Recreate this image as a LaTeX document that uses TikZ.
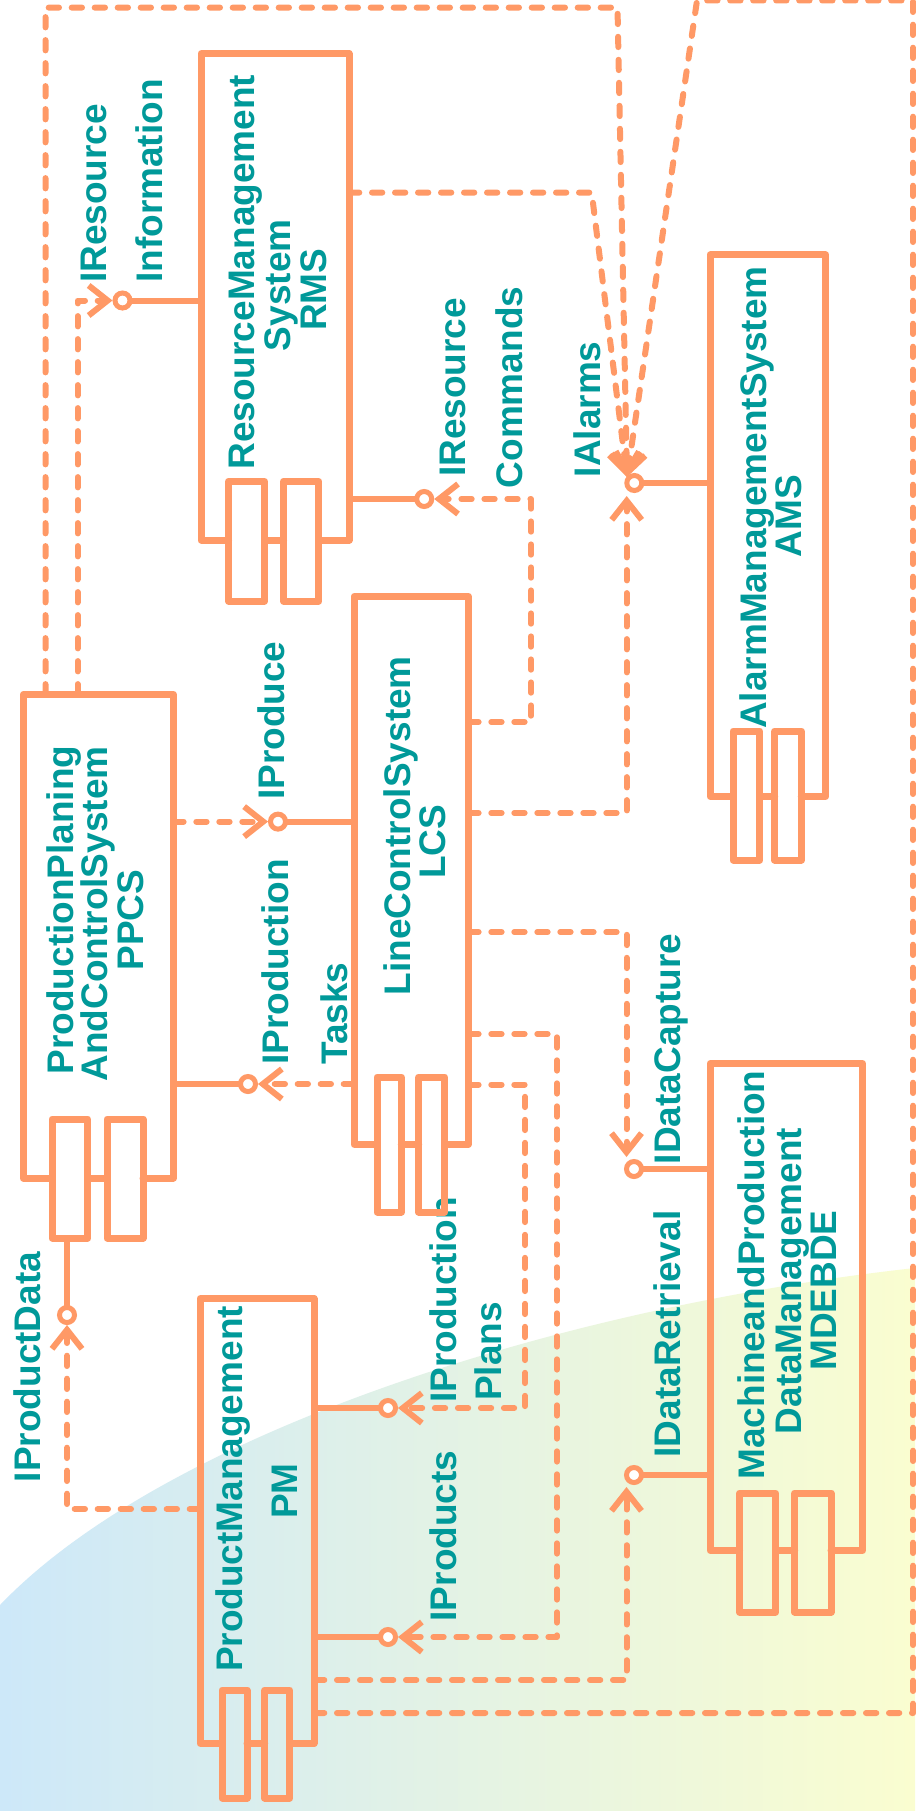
\documentclass[tikz,border=0pt]{standalone}
\usepackage{fontspec}
\setmainfont{Liberation Sans}
\usetikzlibrary{arrows.meta,calc}
\definecolor{lineC}{HTML}{FF9966}
\definecolor{txtC}{HTML}{009999}
\definecolor{blueC}{HTML}{CDE8F9}
\definecolor{yellowC}{HTML}{FAFDD0}
\pgfdeclarelayer{bg}
\pgfdeclarelayer{lines}
\pgfsetlayers{bg,lines,main}
\newcommand\drawcomp[1]{%
  \draw[box] (#1a.west |- #1.south) -- (#1.south west) -- (#1.north west) -- (#1.north east) -- (#1.south east) -- (#1b.east |- #1.south);
  \draw[box] (#1a.east |- #1.south) -- (#1b.west |- #1.south);
  \draw[box] (#1a.south west) rectangle (#1a.north east);
  \draw[box] (#1b.south west) rectangle (#1b.north east);}
\begin{document}
\begin{tikzpicture}[x=1pt,y=-1pt,
  box/.style={draw=lineC,line width=7pt,line join=round,line cap=round},
  frame/.style={rectangle,draw=none,inner sep=0pt,outer sep=0pt},
  conn/.style={draw=lineC,line width=6pt,line cap=round,line join=round},
  dep/.style={conn,dash pattern=on 10.3pt off 12.7pt},
  sock/.style={-{Straight Barb[length=19pt,width=30pt]}},
  ball/.style={circle,draw=lineC,fill=white,line width=5pt,minimum size=15pt,inner sep=0pt,outer sep=0pt},
  lbl/.style={text=txtC,font=\fontsize{37pt}{36pt}\selectfont\bfseries,rotate=90,inner sep=0pt,text height=26.6pt,text depth=0pt}
]
\useasboundingbox (0,0) rectangle (915,1811);
\begin{pgfonlayer}{bg}
\fill[white] (0,0) rectangle (915,1811);
\shade[left color=blueC,right color=yellowC] (0,1605) .. controls (165,1433) and (560,1307) .. (915,1268) -- (915,1811) -- (0,1811) -- cycle;
% labels
\node[lbl,anchor=west] (lIRI1) at (93.4,283) {IResource};
\node[lbl,anchor=west] (lIRI2) at (149.6,283) {Information};
\node[lbl] (lRMS1) at (241.6,272.2) {ResourceManagement};
\node[lbl] (lRMS2) at (277,285.3) {System};
\node[lbl] (lRMS3) at (312.8,289.8) {RMS};
\node[lbl] (lIRC1) at (452,387.5) {IResource};
\node[lbl] (lIRC2) at (509.4,387.5) {Commands};
\node[lbl] (lIA) at (587.3,409.3) {IAlarms};
\node[lbl] (lAMS1) at (752.7,497.5) {AlarmManagementSystem};
\node[lbl] (lAMS2) at (787.7,516.4) {AMS};
\node[lbl] (lIP) at (271.4,720.7) {IProduce};
\node[lbl] (lPPCS1) at (60.5,910) {ProductionPlaning};
\node[lbl] (lPPCS2) at (94,914) {AndControlSystem};
\node[lbl] (lPPCS3) at (130.5,920) {PPCS};
\node[lbl] (lLCS1) at (396.7,825.8) {LineControlSystem};
\node[lbl] (lLCS2) at (431.9,841.6) {LCS};
\node[lbl,anchor=west] (lIPT1) at (275.4,1065) {IProduction};
\node[lbl,anchor=west] (lIPT2) at (334.4,1065) {Tasks};
\node[lbl] (lIPD) at (27.4,1367) {IProductData};
\node[lbl] (lPM1) at (229.4,1489) {ProductManagement};
\node[lbl] (lPM2) at (284.2,1491) {PM};
\node[lbl,anchor=west] (lIPP1) at (443.5,1403) {IProduction};
\node[lbl,anchor=west] (lIPP2) at (488.4,1401) {Plans};
\node[lbl] (lIPs) at (443.5,1536) {IProducts};
\node[lbl] (lIDC) at (667,1049) {IDataCapture};
\node[lbl] (lIDR) at (667,1334) {IDataRetrieval};
\node[lbl] (lMD1) at (751.6,1275) {MachineandProduction};
\node[lbl] (lMD2) at (787.7,1281) {DataManagement};
\node[lbl] (lMD3) at (822.8,1290.5) {MDEBDE};
\end{pgfonlayer}
% component frames
\node[frame,minimum width=148pt,minimum height=486.3pt] (RMS) at (275,296.85) {};
\node[frame,minimum width=36pt,minimum height=119.6pt] (RMSa) at (246.5,541.2) {};
\node[frame,minimum width=35.3pt,minimum height=119.6pt] (RMSb) at (301.15,541.2) {};
\node[frame,minimum width=114.3pt,minimum height=547.9pt] (LCS) at (411.15,870.35) {};
\node[frame,minimum width=24.3pt,minimum height=135pt] (LCSa) at (389.15,1144.5) {};
\node[frame,minimum width=26pt,minimum height=135pt] (LCSb) at (431.7,1144.5) {};
\node[frame,minimum width=150pt,minimum height=483.6pt] (PPCS) at (98.3,936.2) {};
\node[frame,minimum width=35.7pt,minimum height=119pt] (PPCSa) at (69.85,1178.5) {};
\node[frame,minimum width=36pt,minimum height=119pt] (PPCSb) at (125,1178.5) {};
\node[frame,minimum width=115.7pt,minimum height=541.5pt] (AMS) at (767.85,525.75) {};
\node[frame,minimum width=26.7pt,minimum height=129pt] (AMSa) at (746.35,795.5) {};
\node[frame,minimum width=26.6pt,minimum height=129pt] (AMSb) at (788,795.5) {};
\node[frame,minimum width=152.5pt,minimum height=487pt] (MDEBDE) at (786.25,1307) {};
\node[frame,minimum width=36.1pt,minimum height=119pt] (MDEBDEa) at (757.55,1552.5) {};
\node[frame,minimum width=36.3pt,minimum height=119pt] (MDEBDEb) at (812.85,1552.5) {};
\node[frame,minimum width=114pt,minimum height=444.7pt] (PM) at (257,1520.95) {};
\node[frame,minimum width=25pt,minimum height=108pt] (PMa) at (234.5,1744) {};
\node[frame,minimum width=25pt,minimum height=108pt] (PMb) at (277.2,1744) {};
\drawcomp{RMS}
\drawcomp{LCS}
\drawcomp{PPCS}
\drawcomp{AMS}
\drawcomp{MDEBDE}
\drawcomp{PM}
% interface balls
\node[ball] (cIRI) at (122.5,300.5) {};
\node[ball] (cIRC) at (424.2,499) {};
\node[ball] (cIA) at (634.3,483) {};
\node[ball] (cIP) at (278,821.6) {};
\node[ball] (cIPT) at (248,1084) {};
\node[ball] (cIDC) at (634,1169) {};
\node[ball] (cIPD) at (67,1315) {};
\node[ball] (cIPP) at (388,1408) {};
\node[ball] (cIDR) at (634,1475) {};
\node[ball] (cIPs) at (388,1637) {};
% helper coordinates
\coordinate (xL1) at (45.5,0);
\coordinate (xL2) at (77.6,0);
\coordinate (yRMSd) at (0,192.6);
\coordinate (yLCSa) at (0,722);
\coordinate (yLCSb) at (0,813);
\coordinate (yLCSc) at (0,932);
\coordinate (yLCSd) at (0,1034);
\coordinate (yLCSe) at (0,1084.5);
\coordinate (yPMa) at (0,1509);
\coordinate (yPMb) at (0,1680);
\coordinate (yPMc) at (0,1713);
\coordinate (b1) at (617.5,7.6);
\coordinate (b3) at (591.7,192.6);
\coordinate (b4a) at (913,1713);
\coordinate (b4b) at (913,0.5);
\coordinate (b4c) at (697,0.5);
\coordinate (b6) at (531,722);
\coordinate (b10) at (525,1084.5);
\coordinate (b11) at (557,1034);
\coordinate (iaT) at (627,477);
\coordinate (iaB) at (626.7,496);
\coordinate (dcT) at (626.5,1157);
\coordinate (drT) at (626.5,1487);
\begin{pgfonlayer}{lines}
% provided interfaces (lollipops)
\draw[conn] (RMS.west |- cIRI) -- (cIRI.center);
\draw[conn] (RMS.east |- cIRC) -- (cIRC.center);
\draw[conn] (AMS.west |- cIA) -- (cIA.center);
\draw[conn] (LCS.west |- cIP) -- (cIP.center);
\draw[conn] (PPCS.east |- cIPT) -- (cIPT.center);
\draw[conn] (MDEBDE.west |- cIDC) -- (cIDC.center);
\draw[conn] (MDEBDE.west |- cIDR) -- (cIDR.center);
\draw[conn] (cIPD |- PPCSa.south) -- (cIPD.center);
\draw[conn] (PM.east |- cIPP) -- (cIPP.center);
\draw[conn] (PM.east |- cIPs) -- (cIPs.center);
% required interfaces (dashed)
\draw[dep,sock] (PPCS.north -| xL1) |- (b1) -- (iaT);
\draw[dep,sock] (PPCS.north -| xL2) |- ([xshift=-10pt]cIRI.center);
\draw[dep,sock] (RMS.east |- yRMSd) -- (b3) -- (iaT);
\draw[dep,sock] (PM.east |- yPMc) -- (b4a) -- (b4b) -- (b4c) -- (iaT);
\draw[dep,sock] (LCS.east |- yLCSb) -| (iaB);
\draw[dep,sock] (LCS.east |- yLCSa) -- (b6) |- ([xshift=10pt]cIRC.center);
\draw[dep,sock] (PPCS.east |- cIP) -- ([xshift=-10pt]cIP.center);
\draw[dep,sock] (LCS.west |- cIPT) -- ([xshift=10pt]cIPT.center);
\draw[dep,sock] (LCS.east |- yLCSc) -| (dcT);
\draw[dep,sock] (LCS.east |- yLCSe) -- (b10) |- ([xshift=10pt]cIPP.center);
\draw[dep,sock] (LCS.east |- yLCSd) -- (b11) |- ([xshift=10pt]cIPs.center);
\draw[dep,sock] (PM.west |- yPMa) -| ([yshift=-10pt]cIPD.center);
\draw[dep,sock] (PM.east |- yPMb) -| (drT);
\end{pgfonlayer}
\end{tikzpicture}
\end{document}
